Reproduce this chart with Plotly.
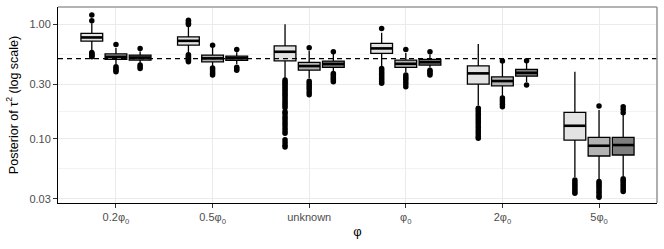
import numpy as np
import plotly.graph_objects as go

# ---------------- data ----------------
groups = ["0.2φ<sub>0</sub>", "0.5φ<sub>0</sub>", "unknown", "φ<sub>0</sub>", "2φ<sub>0</sub>", "5φ<sub>0</sub>"]
series_names = ["series 1", "series 2", "series 3"]

# series 1 (light)
s1_q1 = [0.71, 0.656, 0.479, 0.556, 0.30, 0.0976]
s1_med = [0.765, 0.715, 0.574, 0.614, 0.372, 0.130]
s1_q3 = [0.83, 0.775, 0.647, 0.679, 0.433, 0.170]
s1_lo = [0.58, 0.56, 0.335, 0.43, 0.195, 0.0465]
s1_hi = [1.02, 0.95, 0.995, 0.84, 0.67, 0.384]
s1_out = [
    [1.2, 1.07, 0.565, 0.555, 0.545, 0.535, 0.525, 0.52],
    [1.08, 1.05, 1.02, 0.99, 0.54, 0.53, 0.52, 0.51, 0.50, 0.49, 0.48, 0.47],
    [0.325, 0.315, 0.305, 0.295, 0.285, 0.275, 0.265, 0.255, 0.245, 0.236, 0.227,
     0.218, 0.21, 0.202, 0.194, 0.187, 0.172, 0.167, 0.158, 0.151, 0.144, 0.137,
     0.13, 0.123, 0.117, 0.112, 0.098, 0.093, 0.088, 0.085],
    [0.917, 0.41, 0.398, 0.385, 0.372, 0.36, 0.348, 0.336, 0.325, 0.315, 0.305],
    [0.185, 0.178, 0.171, 0.164, 0.157, 0.15, 0.144, 0.138, 0.132, 0.126, 0.12,
     0.115, 0.11, 0.105, 0.101],
    [0.0438, 0.042, 0.0405, 0.039, 0.0375, 0.036, 0.0347, 0.0335],
]

# series 2 (mid)
s2_q1 = [0.493, 0.469, 0.397, 0.42, 0.29, 0.0709]
s2_med = [0.519, 0.503, 0.431, 0.451, 0.319, 0.0871]
s2_q3 = [0.551, 0.537, 0.464, 0.486, 0.347, 0.103]
s2_lo = [0.449, 0.43, 0.338, 0.38, 0.236, 0.0438]
s2_hi = [0.62, 0.618, 0.582, 0.559, 0.457, 0.178]
s2_out = [
    [0.665, 0.425, 0.41, 0.397, 0.385],
    [0.656, 0.415, 0.40, 0.385, 0.372, 0.36],
    [0.622, 0.318, 0.305, 0.292, 0.28, 0.268, 0.255, 0.242],
    [0.602, 0.36, 0.345, 0.33, 0.315, 0.30, 0.285],
    [0.476, 0.227, 0.218, 0.209, 0.2, 0.19],
    [0.193, 0.0425, 0.041, 0.0395, 0.038, 0.0365, 0.035, 0.0335, 0.032, 0.031],
]

# series 3 (dark)
s3_q1 = [0.486, 0.483, 0.42, 0.44, 0.352, 0.0723]
s3_med = [0.511, 0.506, 0.449, 0.466, 0.376, 0.0883]
s3_q3 = [0.537, 0.526, 0.476, 0.493, 0.403, 0.103]
s3_lo = [0.457, 0.449, 0.389, 0.418, 0.313, 0.0474]
s3_hi = [0.576, 0.57, 0.548, 0.543, 0.467, 0.164]
s3_out = [
    [0.614, 0.44, 0.425, 0.41],
    [0.60, 0.42, 0.408, 0.397],
    [0.574, 0.372, 0.36, 0.348, 0.336, 0.325, 0.314],
    [0.574, 0.397, 0.385, 0.372, 0.36],
    [0.479, 0.294],
    [0.19, 0.18, 0.169, 0.045, 0.0435, 0.042, 0.0405, 0.039, 0.0375, 0.036, 0.0347],
]

ref_value = 0.5
y_ticks = [0.03, 0.1, 0.3, 1.0]
y_ticktext = ["0.03", "0.10", "0.30", "1.00"]

# ---------------- styling ----------------
fills = ["#e3e3e3", "#b3b3b3", "#7f7f7f"]
dodge = 0.25
box_w = 0.225
font_family = "Liberation Sans, Arial, sans-serif"
x_range = [-0.6, len(groups) - 0.4]

series = [
    (s1_q1, s1_med, s1_q3, s1_lo, s1_hi, s1_out),
    (s2_q1, s2_med, s2_q3, s2_lo, s2_hi, s2_out),
    (s3_q1, s3_med, s3_q3, s3_lo, s3_hi, s3_out),
]

fig = go.Figure()

# dashed reference line (behind boxes)
fig.add_trace(go.Scatter(x=x_range, y=[ref_value, ref_value], mode="lines",
                         line=dict(color="black", width=1.1, dash="5px,4px"),
                         showlegend=False, hoverinfo="skip", cliponaxis=True))

gidx = np.arange(len(groups))
for k, (q1, med, q3, lo, hi, outs) in enumerate(series):
    pos = gidx + (k - 1) * dodge
    fig.add_trace(go.Box(
        x=pos, q1=q1, median=med, q3=q3, lowerfence=lo, upperfence=hi,
        width=box_w, whiskerwidth=0, boxpoints=False,
        fillcolor=fills[k], line=dict(color="black", width=1.3),
        name=series_names[k], showlegend=False, hoverinfo="skip",
    ))
    # thicker median line
    mx, my = [], []
    for p, m in zip(pos, med):
        mx += [p - box_w / 2, p + box_w / 2, None]
        my += [m, m, None]
    fig.add_trace(go.Scatter(x=mx, y=my, mode="lines",
                             line=dict(color="black", width=2.6),
                             showlegend=False, hoverinfo="skip"))
    # outliers
    ox, oy = [], []
    for p, o in zip(pos, outs):
        ox += [p] * len(o)
        oy += o
    fig.add_trace(go.Scatter(x=ox, y=oy, mode="markers",
                             marker=dict(color="black", size=5.5),
                             showlegend=False, hoverinfo="skip"))

minor_vals = list(np.sqrt(np.array(y_ticks[:-1]) * np.array(y_ticks[1:])))

# panel border (top / right)
fig.add_shape(type="line", xref="paper", yref="paper", x0=0, x1=1, y0=1, y1=1,
              line=dict(color="#9a9a9a", width=1.6), layer="above")
fig.add_shape(type="line", xref="paper", yref="paper", x0=1, x1=1, y0=0, y1=1,
              line=dict(color="#9a9a9a", width=1.6), layer="above")

fig.update_layout(
    width=664, height=249,
    margin=dict(l=58, r=7, t=7, b=46),
    paper_bgcolor="white", plot_bgcolor="white",
    font=dict(family=font_family, color="black", size=12),
    hovermode=False,
    xaxis=dict(
        range=x_range,
        tickvals=list(gidx), ticktext=groups,
        tickfont=dict(size=11, color="#4d4d4d"),
        ticks="outside", ticklen=4, tickcolor="#333333",
        showgrid=True, gridcolor="#ebebeb", gridwidth=1,
        showline=True, linecolor="black", linewidth=1,
        zeroline=False,
        title=dict(text="φ", font=dict(size=13), standoff=2),
    ),
    yaxis=dict(
        type="log",
        range=[np.log10(0.0276), np.log10(1.41)],
        tickvals=y_ticks, ticktext=y_ticktext,
        tickfont=dict(size=11, color="#4d4d4d"),
        ticks="outside", ticklen=4, tickcolor="#333333",
        showgrid=True, gridcolor="#ebebeb", gridwidth=1,
        minor=dict(tickvals=minor_vals, showgrid=True, gridcolor="#f3f3f3",
                   gridwidth=0.6, ticks=""),
        showline=True, linecolor="black", linewidth=1,
        zeroline=False,
        title=dict(text="Posterior of τ<sup>2</sup> (log scale)", font=dict(size=12.5), standoff=8),
    ),
)

fig.write_html("out.html", config={"displayModeBar": False},
               post_script="document.body.style.margin='0';")
